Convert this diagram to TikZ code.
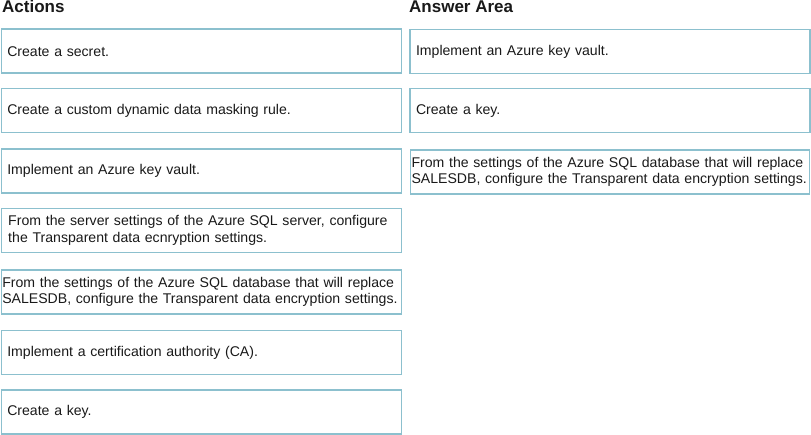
\documentclass[tikz,border=0pt]{standalone}
\usepackage{fontspec}
\setmainfont{Liberation Sans}
\definecolor{boxc}{RGB}{140,192,206}
\definecolor{txt}{RGB}{25,25,25}
\begin{document}
\begin{tikzpicture}[x=1pt,y=-1pt,
  head/.style={anchor=base west,inner sep=0pt,font=\fontsize{17}{20}\selectfont\bfseries,text=txt},
  lbox/.style={draw=boxc,line width=1.5pt,minimum width=400pt,minimum height=44pt,
    text width=388pt,inner xsep=6pt,inner ysep=0pt,align=left,text=txt,
    font=\fontsize{14.1}{16.7}\selectfont},
  rbox/.style={lbox,minimum width=399pt}]
\useasboundingbox (0,0) rectangle (811,435);
\node[head] (hA) at (2,13) {Actions};
\node[head] (hB) at (409,13) {Answer Area};
\node[lbox] (a1) at (201.25,51.25) {Create a secret.};
\node[lbox] (a2) at (201.25,110.5) {Create a custom dynamic data masking rule.};
\node[lbox] (a3) at (201.25,171) {Implement an Azure key vault.};
\node[lbox,text width=386pt,inner xsep=7pt] (a4) at (201.25,230.5) {\mbox{From the server settings of the Azure SQL server, configure}\\\mbox{the Transparent data ecnryption settings.}};
\node[lbox,text width=398pt,inner xsep=1pt] (a5) at (201.25,292) {\mbox{From the settings of the Azure SQL database that will replace}\\\mbox{SALESDB, configure the Transparent data encryption settings.}};
\node[lbox] (a6) at (201.25,352.5) {Implement a certification authority (CA).};
\node[lbox] (a7) at (201.25,412) {Create a key.};
\node[rbox] (b1) at (610,51.5) {Implement an Azure key vault.};
\node[rbox] (b2) at (610,110.5) {Create a key.};
\node[rbox,text width=397pt,inner xsep=1pt] (b3) at (610,172) {\mbox{From the settings of the Azure SQL database that will replace}\\\mbox{SALESDB, configure the Transparent data encryption settings.}};
\end{tikzpicture}
\end{document}
